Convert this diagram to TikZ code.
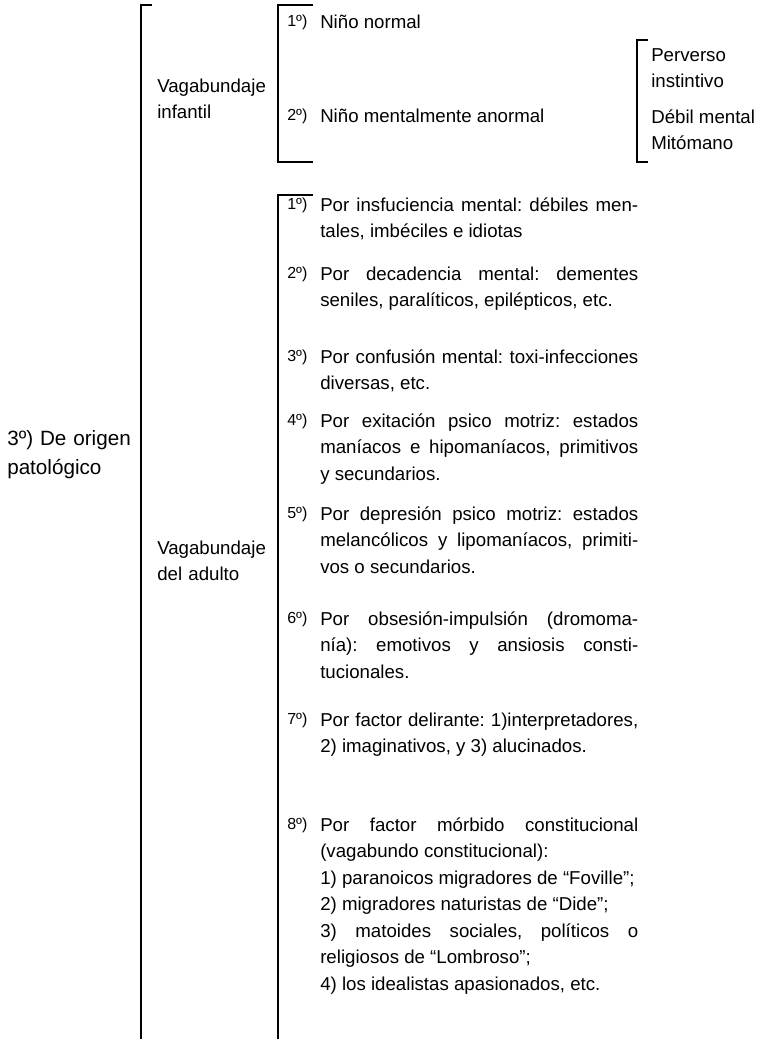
\documentclass[tikz,border=0pt]{standalone}
\usepackage{fontspec}
\setmainfont{Liberation Sans}
\usetikzlibrary{positioning,calc}
\hyphenpenalty=10000
\exhyphenpenalty=10000
\tolerance=10000
\frenchspacing

\begin{document}
\begin{tikzpicture}[x=0.75pt,y=-0.75pt]
	\tikzstyle{txt}=[inner sep=0pt, anchor=base west, font=\fontsize{14}{19.9}\selectfont]
	\tikzstyle{head}=[txt, text width=120pt, align=left]
	\tikzstyle{bighead}=[head, font=\fontsize{15.5}{22}\selectfont]
	\tikzstyle{numlbl}=[inner sep=0pt, anchor=base west, font=\fontsize{12}{14}\selectfont]
	\tikzstyle{itemtext}=[txt, text width=238.5pt, align=justify]
	\tikzstyle{bracket}=[line width=1.4pt]

	\useasboundingbox (0,0) rectangle (760,1039);

	% brackets
	\coordinate (outerTop) at (141,5);
	\coordinate (outerEnd) at (141,1039);
	\draw [bracket] ($(outerTop)+(11,0)$) -- (outerTop) -- (outerEnd);

	\coordinate (infTop) at (278,5);
	\coordinate (infBot) at (278,162);
	\draw [bracket] ($(infTop)+(35,0)$) -- (infTop) -- (infBot) -- ($(infBot)+(35,0)$);

	\coordinate (adTop) at (278,195);
	\coordinate (adEnd) at (278,1039);
	\draw [bracket] ($(adTop)+(35,0)$) -- (adTop) -- (adEnd);

	\coordinate (anTop) at (637,40);
	\coordinate (anBot) at (637,162);
	\draw [bracket] ($(anTop)+(11,0)$) -- (anTop) -- (anBot) -- ($(anBot)+(11,0)$);

	% left headings
	\node (origen) [bighead] at (7,445) {3º) De origen\\patológico};
	\node (infantil) [head] at (157,92) {Vagabundaje\\infantil};
	\node (adulto) [head] at (157,554) {Vagabundaje\\del adulto};

	% vagabundaje infantil
	\node (n1) [numlbl] at (287,26) {1º)};
	\node (normal) [txt] at (320,28) {Niño normal};
	\node (n2) [numlbl] at (287,120) {2º)};
	\node (anormal) [txt] at (320,122) {Niño mentalmente anormal};

	\node (perverso) [head] at (651,61) {Perverso\\instintivo};
	\node (debil) [txt] at (651,123) {Débil mental};
	\node (mitomano) [txt] at (651,149) {Mitómano};

	% vagabundaje del adulto
	\node (a1) [numlbl] at (287,209) {1º)};
	\node (t1) [itemtext] at (320,211) {Por insfuciencia mental: débiles men-\linebreak tales, imbéciles e idiotas};
	\node (a2) [numlbl] at (287,278) {2º)};
	\node (t2) [itemtext] at (320,280) {Por decadencia mental: dementes\linebreak seniles, paralíticos, epilépticos, etc.};
	\node (a3) [numlbl] at (287,361) {3º)};
	\node (t3) [itemtext] at (320,363) {Por confusión mental: toxi-infecciones\linebreak diversas, etc.};
	\node (a4) [numlbl] at (287,425) {4º)};
	\node (t4) [itemtext] at (320,427) {Por exitación psico motriz: estados\linebreak maníacos e hipomaníacos, primitivos\linebreak y secundarios.};
	\node (a5) [numlbl] at (287,518) {5º)};
	\node (t5) [itemtext] at (320,520) {Por depresión psico motriz: estados\linebreak melancólicos y lipomaníacos, primiti-\linebreak vos o secundarios.};
	\node (a6) [numlbl] at (287,623) {6º)};
	\node (t6) [itemtext] at (320,625) {Por obsesión-impulsión (dromoma-\linebreak nía): emotivos y ansiosis consti-\linebreak tucionales.};
	\node (a7) [numlbl] at (287,724) {7º)};
	\node (t7) [itemtext] at (320,726) {Por factor delirante: 1)interpretadores,\linebreak 2) imaginativos, y 3) alucinados.};
	\node (a8) [numlbl] at (287,829) {8º)};
	\node (t8) [itemtext] at (320,831) {Por factor mórbido constitucional\linebreak (vagabundo constitucional):\newline 1) paranoicos migradores de “Foville”;\newline 2) migradores naturistas de “Dide”;\newline 3) matoides sociales, políticos o\linebreak religiosos de “Lombroso”;\newline 4) los idealistas apasionados, etc.};
\end{tikzpicture}
\end{document}
